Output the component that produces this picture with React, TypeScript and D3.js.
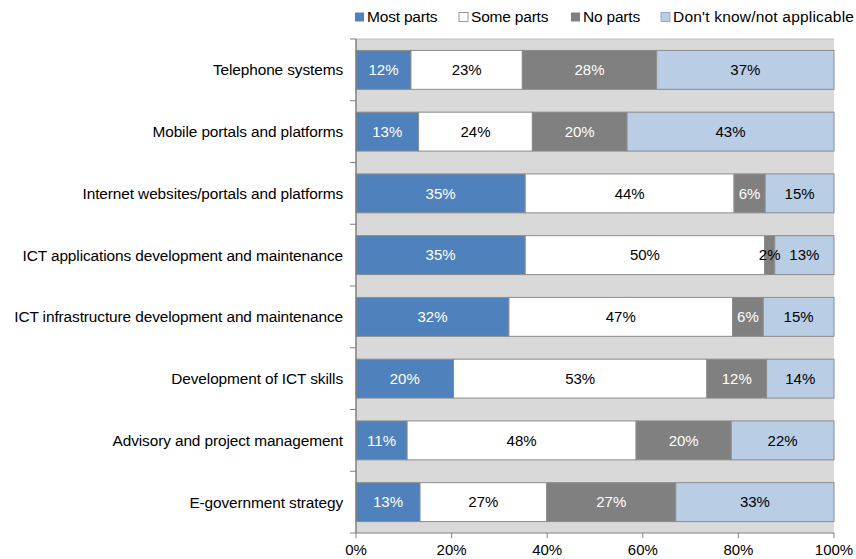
import React from 'react';
import * as d3 from 'd3';

const categories = [
  'Telephone systems',
  'Mobile portals and platforms',
  'Internet websites/portals and platforms',
  'ICT applications development and maintenance',
  'ICT infrastructure development and maintenance',
  'Development of ICT skills',
  'Advisory and project management',
  'E-government strategy',
];

const seriesNames = ['Most parts', 'Some parts', 'No parts', "Don't know/not applicable"];

// values as drawn (percent), label shows rounded figure
const mostParts = [11.5, 13.1, 35.4, 35.4, 32.0, 20.4, 10.7, 13.4];
const someParts = [23.3, 23.8, 43.7, 50.1, 46.8, 53.0, 47.9, 26.5];
const noParts = [28.1, 19.8, 6.5, 2.1, 6.4, 12.5, 19.9, 27.0];
const dontKnow = [37.1, 43.3, 14.4, 12.4, 14.8, 14.1, 21.5, 33.1];

const labelsMost = ['12%', '13%', '35%', '35%', '32%', '20%', '11%', '13%'];
const labelsSome = ['23%', '24%', '44%', '50%', '47%', '53%', '48%', '27%'];
const labelsNo = ['28%', '20%', '6%', '2%', '6%', '12%', '20%', '27%'];
const labelsDk = ['37%', '43%', '15%', '13%', '15%', '14%', '22%', '33%'];

const xTicks = [0, 20, 40, 60, 80, 100];

const colors = ['#4f81bd', '#ffffff', '#808080', '#b9cde5'];
const textColors = ['#ffffff', '#000000', '#ffffff', '#000000'];

const W = 856;
const H = 559;
const margin = { top: 39, right: 22, bottom: 26, left: 356 };
const font = 'Arial, "Liberation Sans", sans-serif';

export default function App() {
  const innerW = W - margin.left - margin.right;
  const innerH = H - margin.top - margin.bottom;

  const x = d3.scaleLinear().domain([0, 100]).range([0, innerW]);
  const y = d3.scaleBand().domain(categories).range([0, innerH]).paddingInner(0.37).paddingOuter(0.185);

  const seriesVals = [mostParts, someParts, noParts, dontKnow];
  const seriesLabels = [labelsMost, labelsSome, labelsNo, labelsDk];

  const rows = categories.map((c, i) => {
    let acc = 0;
    return seriesVals.map((vals, s) => {
      const x0 = acc;
      acc += vals[i];
      return { cat: c, s, x0, x1: acc, label: seriesLabels[s][i] };
    });
  });

  const step = innerH / categories.length;
  const boundaries = d3.range(categories.length + 1).map((k) => k * step);

  const legendX = [355, 459, 571, 661];

  return (
    <svg width={W} height={H} style={{ position: 'absolute', left: 0, top: 0 }} fontFamily={font}>
      <rect width={W} height={H} fill="#ffffff" />
      {/* legend */}
      {seriesNames.map((n, i) => (
        <g key={n} transform={`translate(${legendX[i]},17)`}>
          <rect x={0} y={-4.5} width={9} height={9} fill={colors[i]} stroke={i === 1 ? '#808080' : i === 3 ? '#8a9cb5' : 'none'} strokeWidth={0.8} />
          <text x={12} y={0} dy="0.35em" fontSize={15.5} letterSpacing={i === 3 ? 0.2 : -0.2} fill="#000">
            {n}
          </text>
        </g>
      ))}
      <g transform={`translate(${margin.left},${margin.top})`}>
        <rect x={0} y={0} width={innerW} height={innerH} fill="#d9d9d9" />
        <line x1={0} x2={innerW} y1={0} y2={0} stroke="#bfbfbf" />
        {rows.map((segs) =>
          segs.map((d) => (
            <rect
              key={d.cat + d.s}
              x={x(d.x0)}
              y={y(d.cat)}
              width={x(d.x1) - x(d.x0)}
              height={y.bandwidth()}
              fill={colors[d.s]}
              stroke="#8c8c8c"
              strokeWidth={1}
            />
          ))
        )}
        {rows.map((segs) =>
          segs.map((d) => {
            const w = x(d.x1) - x(d.x0);
            return (
              <text
                key={'t' + d.cat + d.s}
                x={(x(d.x0) + x(d.x1)) / 2}
                y={(y(d.cat) as number) + y.bandwidth() / 2}
                dy="0.35em"
                textAnchor="middle"
                fontSize={15}
                fill={w < 15 ? '#000000' : textColors[d.s]}
              >
                {d.label}
              </text>
            );
          })
        )}
        {/* left axis */}
        <line x1={0} x2={0} y1={0} y2={innerH} stroke="#808080" strokeWidth={1.5} />
        {boundaries.map((b) => (
          <line key={b} x1={-6} x2={0} y1={b} y2={b} stroke="#808080" />
        ))}
        {categories.map((c) => (
          <text
            key={c}
            x={-13}
            y={(y(c) as number) + y.bandwidth() / 2}
            dy="0.35em"
            textAnchor="end"
            fontSize={15.4}
            letterSpacing={-0.1}
            fill="#000"
          >
            {c}
          </text>
        ))}
        {/* bottom axis */}
        <line x1={0} x2={innerW} y1={innerH} y2={innerH} stroke="#808080" />
        {xTicks.map((t) => (
          <g key={t} transform={`translate(${x(t)},${innerH})`}>
            <line y1={0} y2={5} stroke="#808080" />
            <text y={17} dy="0.35em" textAnchor="middle" fontSize={15} fill="#000">
              {t + '%'}
            </text>
          </g>
        ))}
      </g>
    </svg>
  );
}
